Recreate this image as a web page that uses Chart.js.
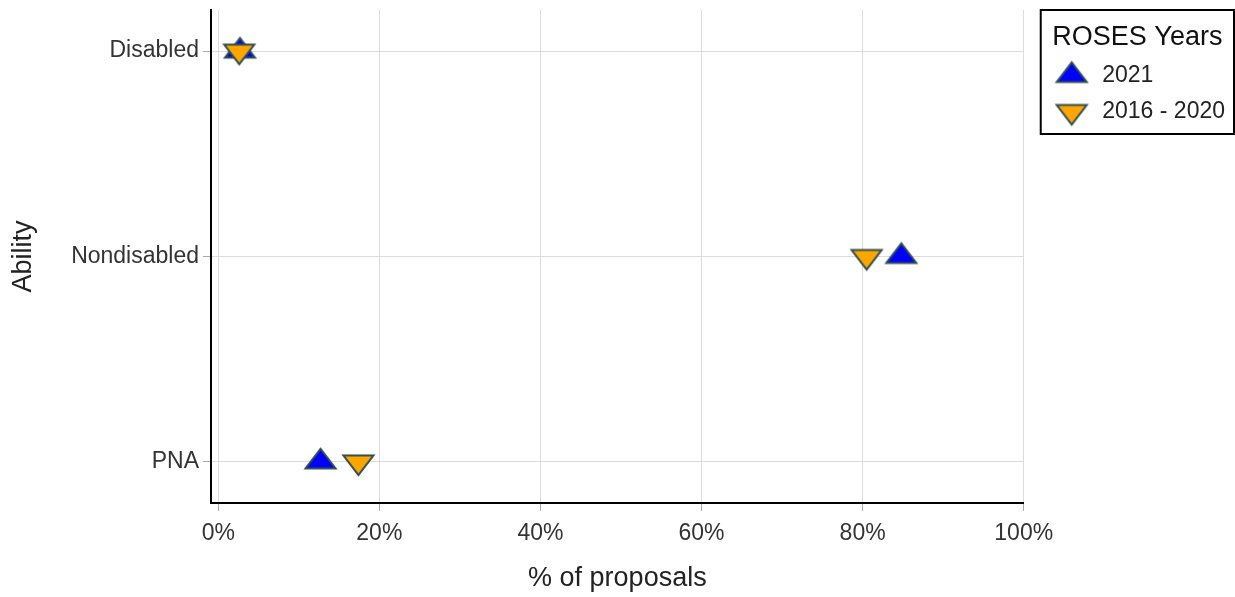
<!DOCTYPE html>
<html>
<head>
<meta charset="utf-8">
<script src="https://cdn.jsdelivr.net/npm/chart.js@4.4.1/dist/chart.umd.min.js"></script>
<style>
  html, body { margin: 0; padding: 0; background: #fff; }
  #wrap { width: 1235px; height: 597px; }
</style>
</head>
<body>
<div id="wrap"><canvas id="abilityChart" width="1235" height="597"></canvas></div>
<script>
// y index: 0 = PNA (bottom), 1 = Nondisabled, 2 = Disabled (top)
const abilityLabels = ['PNA', 'Nondisabled', 'Disabled']
const roses2021 = [12.7, 84.8, 2.7]
const roses2016to2020 = [17.4, 80.5, 2.6]
const percentTicks = [0, 20, 40, 60, 80, 100]

const FONT = "'Liberation Sans', Arial, sans-serif"
const EDGE = '#2F4F4F'

function toPoints(values) {
  return values.map((v, i) => ({ x: v, y: i }))
}

// flat triangle marker, point sits at canvas centre
function triangleMarker(fill, pointDown) {
  const r = 13
  const half = r * 2 / Math.sqrt(3)
  const size = 2 * r + 6
  const c = document.createElement('canvas')
  c.width = Math.ceil(2 * half + 6)
  c.height = size
  const ctx = c.getContext('2d')
  const cx = c.width / 2
  const cy = size / 2
  const dir = pointDown ? -1 : 1
  ctx.beginPath()
  ctx.moveTo(cx - half, cy + dir * r / 2)
  ctx.lineTo(cx + half, cy + dir * r / 2)
  ctx.lineTo(cx, cy - dir * r)
  ctx.closePath()
  ctx.fillStyle = fill
  ctx.fill()
  ctx.lineWidth = 2
  ctx.lineJoin = 'miter'
  ctx.strokeStyle = EDGE
  ctx.stroke()
  return c
}

const upMarker = triangleMarker('#0000FF', false)
const downMarker = triangleMarker('#FFA500', true)

// Chart.js legends have no frame and sit flush on the chart area
const legendFrame = {
  id: 'legendFrame',
  afterLayout(chart) {
    const lg = chart.legend
    const dx = chart.width - lg.right
    lg.left += dx
    lg.right += dx
  },
  afterDraw(chart) {
    const lg = chart.legend
    if (!lg || !lg.legendHitBoxes.length) {
      return
    }
    const last = lg.legendHitBoxes[lg.legendHitBoxes.length - 1]
    const ctx = chart.ctx
    ctx.save()
    ctx.strokeStyle = '#000'
    ctx.lineWidth = 2
    ctx.strokeRect(lg.left + 1, lg.top, chart.width - lg.left - 2, last.top + last.height + 11 - lg.top)
    ctx.restore()
  }
}

new Chart(document.getElementById('abilityChart'), {
  type: 'scatter',
  data: {
    datasets: [{
      label: '2016 - 2020',
      data: toPoints(roses2016to2020),
      pointStyle: downMarker
    }, {
      label: '2021',
      data: toPoints(roses2021),
      pointStyle: upMarker
    }]
  },
  options: {
    responsive: false,
    animation: false,
    layout: {
      padding: { top: 10, right: 16, left: 0, bottom: 0 }
    },
    plugins: {
      tooltip: { enabled: false },
      legend: {
        position: 'right',
        align: 'start',
        reverse: true,
        title: {
          display: true,
          text: 'ROSES Years',
          color: '#111',
          font: { family: FONT, size: 27, lineHeight: 1 },
          padding: { top: 14, bottom: 0 }
        },
        labels: {
          usePointStyle: true,
          pointStyleWidth: 38,
          padding: 13,
          color: '#222',
          font: { family: FONT, size: 23 }
        }
      }
    },
    scales: {
      x: {
        type: 'linear',
        min: -0.9,
        max: 100,
        afterBuildTicks(scale) {
          scale.ticks = percentTicks.map(v => ({ value: v }))
        },
        afterFit(scale) {
          scale.height = 94
        },
        border: { color: '#000', width: 2 },
        grid: { color: '#dcdcdc', lineWidth: 1, tickLength: 8, tickColor: '#aaa' },
        ticks: {
          color: '#333',
          padding: 9,
          font: { family: FONT, size: 23 },
          callback: v => v + '%'
        },
        title: {
          display: true,
          text: '% of proposals',
          color: '#222',
          font: { family: FONT, size: 27 },
          padding: { top: 10, bottom: 2 }
        }
      },
      y: {
        type: 'linear',
        min: -0.2,
        max: 2.2,
        afterBuildTicks(scale) {
          scale.ticks = abilityLabels.map((_, i) => ({ value: i }))
        },
        afterFit(scale) {
          scale.width = 211
          scale.paddingTop = 0
          scale.paddingBottom = 0
        },
        border: { color: '#000', width: 2 },
        grid: { color: '#dcdcdc', lineWidth: 1, tickLength: 8, tickColor: '#aaa' },
        ticks: {
          color: '#333',
          padding: 4,
          font: { family: FONT, size: 23 },
          callback: v => abilityLabels[v]
        },
        title: {
          display: true,
          text: 'Ability',
          color: '#222',
          font: { family: FONT, size: 27 },
          padding: { top: 7, bottom: 8 }
        }
      }
    }
  },
  plugins: [legendFrame]
})
</script>
</body>
</html>
